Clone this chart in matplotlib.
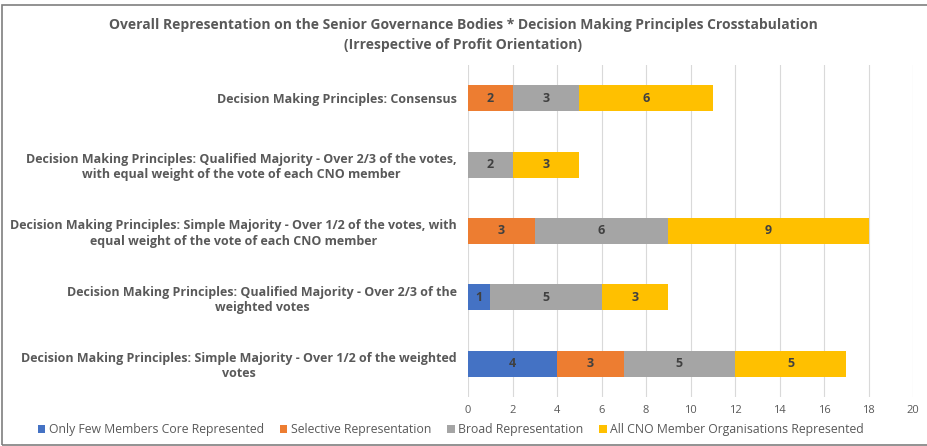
import matplotlib
matplotlib.use("Agg")
import matplotlib.pyplot as plt
from matplotlib.patches import Rectangle
import numpy as np

categories = [
    "Decision Making Principles: Simple Majority - Over 1/2 of the weighted\nvotes",
    "Decision Making Principles: Qualified Majority - Over 2/3 of the\nweighted votes",
    "Decision Making Principles: Simple Majority - Over 1/2 of the votes, with\nequal weight of the vote of each CNO member",
    "Decision Making Principles: Qualified Majority - Over 2/3 of the votes,\nwith equal weight of the vote of each CNO member",
    "Decision Making Principles: Consensus",
]
series_names = [
    "Only Few Members Core Represented",
    "Selective Representation",
    "Broad Representation",
    "All CNO Member Organisations Represented",
]
only_few = [4, 1, 0, 0, 0]
selective = [3, 0, 3, 0, 2]
broad = [5, 5, 6, 2, 3]
all_cno = [5, 3, 9, 3, 6]
colors = ["#4472C4", "#ED7D31", "#A5A5A5", "#FFC000"]
xticks = list(range(0, 21, 2))

title = ("Overall Representation on the Senior Governance Bodies * Decision Making Principles Crosstabulation\n"
         "(Irrespective of Profit Orientation)")

plt.rcParams['font.family'] = ['Open Sans', 'DejaVu Sans']
fig = plt.figure(figsize=(9.27, 4.46), dpi=100)
ax = fig.add_axes([468 / 927, 1 - 397 / 446, (913 - 468) / 927, (397 - 65) / 446])

text_col = "#595959"
y = np.arange(len(categories))
left = np.zeros(len(categories))
for name, vals, c in zip(series_names, [only_few, selective, broad, all_cno], colors):
    vals = np.array(vals, dtype=float)
    ax.barh(y, vals, left=left, height=0.39, color=c, label=name, zorder=3)
    for yi, (l, v) in enumerate(zip(left, vals)):
        if v > 0:
            ax.text(l + v / 2, yi, f"{int(v)}", ha="center", va="center",
                    fontsize=9, fontweight="bold", color="#404040", zorder=4)
    left += vals

ax.set_xlim(0, 20)
ax.set_ylim(-0.5, len(categories) - 0.5)
ax.set_xticks(xticks)
ax.set_yticks(y)
ax.set_yticklabels(categories, fontsize=9, fontweight="bold", color=text_col)
for t in ax.get_yticklabels():
    t.set_multialignment("center")
ax.tick_params(axis="y", length=0, pad=8)
ax.tick_params(axis="x", length=0, labelsize=8, labelcolor=text_col, pad=6)
ax.grid(axis="x", color="#D9D9D9", linewidth=0.8, zorder=0)
for s in ax.spines.values():
    s.set_visible(False)

fig.text(0.5, 1 - 35 / 446, title, ha="center", va="center", fontsize=10,
         fontweight="bold", color=text_col, linespacing=1.5)

handles, labels = ax.get_legend_handles_labels()
leg = fig.legend(handles, labels, loc="center", bbox_to_anchor=(451 / 927, 1 - 430 / 446),
                 ncol=4, frameon=False, fontsize=8.8, handlelength=0.6, handleheight=0.6,
                 handletextpad=0.3, columnspacing=1.3)
for t in leg.get_texts():
    t.set_color(text_col)

fig.patches.append(Rectangle((2 / 927, 0.002), 1.2, 1 - 5 / 446 - 0.002, transform=fig.transFigure,
                             fill=False, edgecolor="#7F7F7F", linewidth=1.2))

fig.savefig("out.png", dpi=100)
